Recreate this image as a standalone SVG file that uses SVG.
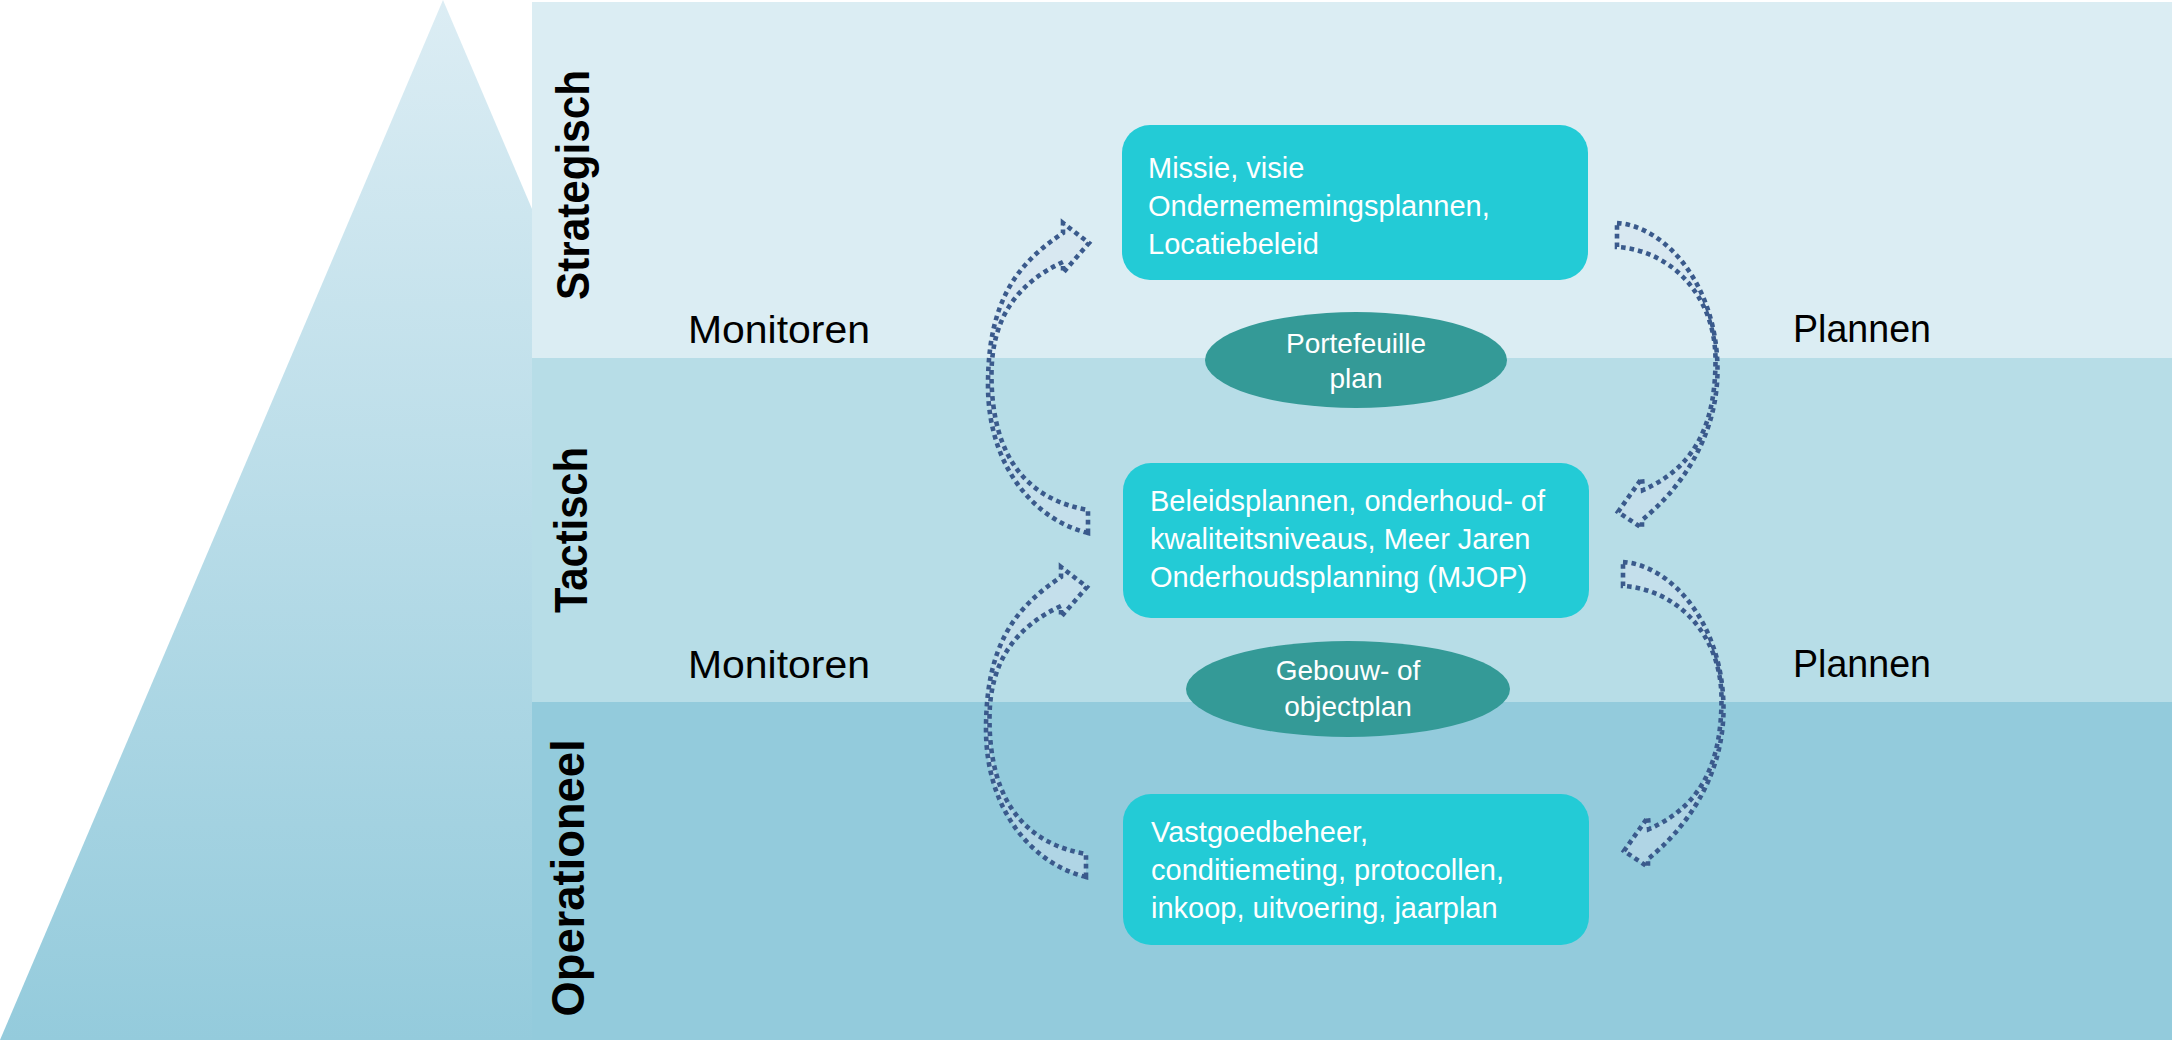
<svg xmlns="http://www.w3.org/2000/svg" width="2172" height="1042" viewBox="0 0 2172 1042">
<style>
.lvl{font-family:"Liberation Sans",Arial,sans-serif;font-weight:bold;font-size:46px;fill:#000}
.side{font-family:"Liberation Sans",Arial,sans-serif;font-size:39px;fill:#000}
.box{fill:#23cbd6}
.bt{font-family:"Liberation Sans",Arial,sans-serif;font-size:29px;fill:#fff}
.ell{fill:#349a97}
.et{font-family:"Liberation Sans",Arial,sans-serif;font-size:28px;fill:#fff;text-anchor:middle}
.arr{fill:#d4e3f0;fill-opacity:0.45;stroke:#3a5a8c;stroke-width:4.6;stroke-dasharray:4.6 4}
</style>
<defs>
<linearGradient id="tri" x1="0" y1="0" x2="0" y2="1">
<stop offset="0" stop-color="#dcedf4"/>
<stop offset="1" stop-color="#94cbdc"/>
</linearGradient>
</defs>
<rect width="2172" height="1042" fill="#fff"/>
<g id="pyramid">
<polygon points="443,0 0,1040 886,1040" fill="url(#tri)"/>
</g>
<g id="bands">
<rect x="532" y="2" width="1640" height="356" fill="#dbedf3"/>
<rect x="532" y="358" width="1640" height="344" fill="#b7dde7"/>
<rect x="532" y="702" width="1640" height="338" fill="#93cbdc"/>
</g>
<g id="level-labels">
<text class="lvl" transform="translate(589,185) rotate(-90)" text-anchor="middle" textLength="230" lengthAdjust="spacingAndGlyphs">Strategisch</text>
<text class="lvl" transform="translate(587,530) rotate(-90)" text-anchor="middle" textLength="166" lengthAdjust="spacingAndGlyphs">Tactisch</text>
<text class="lvl" transform="translate(584,878) rotate(-90)" text-anchor="middle" textLength="277" lengthAdjust="spacingAndGlyphs">Operationeel</text>
</g>
<g id="side-labels">
<text class="side" x="688" y="343" textLength="182" lengthAdjust="spacingAndGlyphs">Monitoren</text>
<text class="side" x="688" y="678" textLength="182" lengthAdjust="spacingAndGlyphs">Monitoren</text>
<text class="side" x="1793" y="342" textLength="138" lengthAdjust="spacingAndGlyphs">Plannen</text>
<text class="side" x="1793" y="677" textLength="138" lengthAdjust="spacingAndGlyphs">Plannen</text>
</g>
<g id="connectors">
<path id="arrow-monitor-top" class="arr" d="M1088,533 L1088,510 C1030,500 991.5,460 991.5,375 C991.5,315 1020,282 1063,262 L1063,273 L1089,243 L1063,223 L1063,233 C1018,263 988,300 988,385 C988,470 1038,521 1088,533 Z"/>
<path id="arrow-monitor-bottom" class="arr" transform="translate(-2,344)" d="M1088,533 L1088,510 C1030,500 991.5,460 991.5,375 C991.5,315 1020,282 1063,262 L1063,273 L1089,243 L1063,223 L1063,233 C1018,263 988,300 988,385 C988,470 1038,521 1088,533 Z"/>
<path id="arrow-plan-top" class="arr" d="M1617,223 C1665,226 1717.5,285 1717.5,370 C1717.5,440 1677,492 1642,520 L1642,528 L1618,512 L1642,478 L1643,490 C1698,466 1715.5,420 1715.5,360 C1715.5,295 1670,250 1617,247 Z"/>
<path id="arrow-plan-bottom" class="arr" transform="translate(6,339)" d="M1617,223 C1665,226 1717.5,285 1717.5,370 C1717.5,440 1677,492 1642,520 L1642,528 L1618,512 L1642,478 L1643,490 C1698,466 1715.5,420 1715.5,360 C1715.5,295 1670,250 1617,247 Z"/>
</g>
<g id="node-strategisch">
<rect class="box" x="1122" y="125" width="466" height="155" rx="28"/>
<text class="bt" x="1148" y="178">Missie, visie</text>
<text class="bt" x="1148" y="216">Ondernememingsplannen,</text>
<text class="bt" x="1148" y="254">Locatiebeleid</text>
</g>
<g id="node-portefeuille">
<ellipse class="ell" cx="1356" cy="360" rx="151" ry="48"/>
<text class="et" x="1356" y="353">Portefeuille</text>
<text class="et" x="1356" y="388">plan</text>
</g>
<g id="node-tactisch">
<rect class="box" x="1123" y="463" width="466" height="155" rx="28"/>
<text class="bt" x="1150" y="511">Beleidsplannen, onderhoud- of</text>
<text class="bt" x="1150" y="549">kwaliteitsniveaus, Meer Jaren</text>
<text class="bt" x="1150" y="587">Onderhoudsplanning (MJOP)</text>
</g>
<g id="node-gebouw">
<ellipse class="ell" cx="1348" cy="689" rx="162" ry="48"/>
<text class="et" x="1348" y="680">Gebouw- of</text>
<text class="et" x="1348" y="716">objectplan</text>
</g>
<g id="node-operationeel">
<rect class="box" x="1123" y="794" width="466" height="151" rx="28"/>
<text class="bt" x="1151" y="842">Vastgoedbeheer,</text>
<text class="bt" x="1151" y="880">conditiemeting, protocollen,</text>
<text class="bt" x="1151" y="918">inkoop, uitvoering, jaarplan</text>
</g>
</svg>
